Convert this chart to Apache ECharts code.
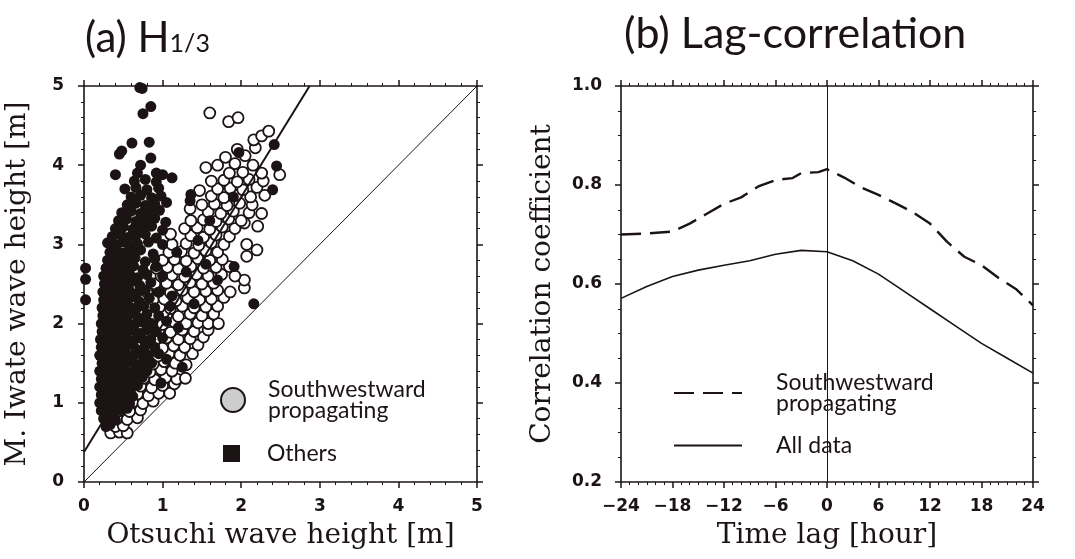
<!DOCTYPE html>
<html>
<head>
<meta charset="utf-8">
<script src="https://cdn.jsdelivr.net/npm/echarts@6/dist/echarts.min.js"></script>
<style>
html, body { margin: 0; padding: 0; background: #fff; }
#main { width: 1075px; height: 559px; }
</style>
</head>
<body>
<div id="main"></div>
<script>
// (a) scatter: Otsuchi vs M. Iwate H1/3 [m]
var otherPts = [
  [0.02,2.30],[0.02,2.56],[0.02,2.70],
  [0.28,0.70],[0.33,0.72],
  [0.25,0.80],[0.32,0.82],[0.40,0.78],
  [0.22,0.90],[0.29,0.92],[0.36,0.88],[0.45,0.91],[0.55,0.93],
  [0.20,1.00],[0.27,1.02],[0.34,0.98],[0.42,1.01],[0.50,1.03],[0.58,0.99],
  [0.22,1.10],[0.30,1.12],[0.38,1.09],[0.46,1.11],[0.55,1.13],[0.62,1.08],
  [0.20,1.20],[0.27,1.22],[0.35,1.19],[0.43,1.21],[0.52,1.23],[0.60,1.18],[0.68,1.22],
  [0.22,1.30],[0.30,1.32],[0.38,1.29],[0.46,1.31],[0.55,1.33],[0.64,1.28],[0.74,1.32],
  [0.20,1.40],[0.28,1.42],[0.36,1.39],[0.44,1.41],[0.52,1.43],[0.61,1.38],[0.70,1.42],[0.80,1.40],
  [0.23,1.50],[0.31,1.52],[0.39,1.49],[0.47,1.51],[0.56,1.53],[0.65,1.48],[0.75,1.52],[0.86,1.50],
  [0.20,1.60],[0.28,1.62],[0.36,1.59],[0.44,1.61],[0.53,1.63],[0.62,1.58],[0.72,1.62],[0.82,1.60],[0.95,1.62],
  [0.22,1.70],[0.30,1.72],[0.38,1.69],[0.47,1.71],[0.56,1.73],[0.66,1.68],[0.78,1.72],[0.90,1.70],
  [0.21,1.80],[0.29,1.82],[0.37,1.79],[0.45,1.81],[0.54,1.83],[0.63,1.78],[0.73,1.82],[0.85,1.80],[1.00,1.82],
  [0.23,1.90],[0.31,1.92],[0.39,1.89],[0.48,1.91],[0.57,1.93],[0.67,1.88],[0.80,1.92],[0.92,1.90],
  [0.22,2.00],[0.30,2.02],[0.38,1.99],[0.46,2.01],[0.55,2.03],[0.64,1.98],[0.74,2.02],[0.86,2.00],[1.05,2.03],
  [0.24,2.10],[0.32,2.12],[0.40,2.09],[0.49,2.11],[0.58,2.13],[0.68,2.08],[0.80,2.12],[0.95,2.10],
  [0.23,2.20],[0.31,2.22],[0.39,2.19],[0.47,2.21],[0.56,2.23],[0.66,2.18],[0.76,2.22],[0.90,2.20],[1.10,2.22],
  [0.25,2.30],[0.33,2.32],[0.41,2.29],[0.50,2.31],[0.59,2.33],[0.70,2.28],[0.83,2.32],
  [0.24,2.40],[0.32,2.42],[0.40,2.39],[0.48,2.41],[0.57,2.43],[0.67,2.38],[0.78,2.42],[0.95,2.40],
  [0.26,2.50],[0.34,2.52],[0.42,2.49],[0.51,2.51],[0.60,2.53],[0.71,2.48],[0.85,2.52],
  [0.25,2.60],[0.33,2.62],[0.41,2.59],[0.49,2.61],[0.58,2.63],[0.68,2.58],[0.80,2.62],
  [0.28,2.70],[0.36,2.72],[0.44,2.69],[0.53,2.71],[0.63,2.73],[0.75,2.68],[0.92,2.72],[1.91,2.72],
  [0.30,2.80],[0.38,2.82],[0.46,2.79],[0.55,2.81],[0.65,2.83],[0.78,2.78],[0.90,2.82],
  [0.33,2.90],[0.42,2.92],[0.51,2.89],[0.60,2.91],[0.72,2.93],[0.88,2.88],
  [0.30,3.02],[0.40,3.00],[0.49,3.03],[0.58,2.98],[0.68,3.01],[0.82,3.03],[1.00,3.00],
  [0.36,3.10],[0.47,3.12],[0.57,3.09],[0.66,3.11],[0.78,3.13],[0.92,3.08],
  [0.40,3.20],[0.50,3.22],[0.62,3.19],[0.74,3.21],[0.86,3.23],[1.00,3.18],
  [0.44,3.30],[0.54,3.32],[0.66,3.29],[0.78,3.31],[0.90,3.33],[1.04,3.28],
  [0.48,3.40],[0.60,3.42],[0.72,3.39],[0.84,3.41],[0.96,3.43],
  [0.55,3.50],[0.66,3.52],[0.78,3.49],[0.90,3.51],[1.05,3.53],
  [0.60,3.60],[0.72,3.62],[0.86,3.59],[0.98,3.61],[1.36,3.63],
  [0.52,3.70],[0.66,3.72],[0.80,3.69],[0.95,3.71],
  [0.64,3.80],[0.78,3.82],[0.92,3.79],[1.12,3.84],
  [0.40,3.88],[0.68,3.90],[0.92,3.90],[1.00,3.88],
  [0.72,4.00],[0.85,4.09],[0.45,4.14],[0.48,4.18],[1.97,4.16],[0.61,4.28],[0.83,4.29],
  [2.42,4.26],[2.45,3.99],[2.40,3.69],[0.75,4.65],[0.85,4.74],[0.74,4.97],[0.71,4.98],[2.16,2.25],
  [1.05,1.55],[1.20,1.95],[1.12,2.35],[1.30,2.65],[1.18,2.90],[1.45,3.05],[1.25,1.45],
  [1.40,2.25],[1.55,2.75],[0.98,1.25],[1.60,3.30],[1.90,3.60],[1.00,2.60],[1.35,3.55],[1.70,2.55]
];
var swPts = [
  [0.34,0.62],[0.45,0.63],[0.55,0.62],
  [0.40,0.70],[0.50,0.71],
  [0.42,0.80],[0.55,0.79],[0.68,0.81],
  [0.45,0.90],[0.58,0.89],[0.72,0.91],
  [0.50,1.00],[0.62,1.01],[0.75,0.99],[0.88,1.02],
  [0.55,1.10],[0.68,1.11],[0.82,1.09],[0.95,1.12],[1.09,1.12],
  [0.58,1.20],[0.72,1.21],[0.86,1.19],[1.00,1.22],[1.15,1.24],
  [0.62,1.30],[0.76,1.31],[0.90,1.29],[1.04,1.32],[1.18,1.30],[1.29,1.31],
  [0.55,1.40],[0.70,1.41],[0.84,1.39],[0.98,1.42],[1.12,1.40],
  [0.60,1.50],[0.74,1.51],[0.88,1.49],[1.02,1.52],[1.16,1.50],[1.30,1.48],
  [0.66,1.60],[0.80,1.61],[0.94,1.59],[1.08,1.62],[1.22,1.60],[1.38,1.62],
  [0.70,1.70],[0.85,1.71],[1.00,1.69],[1.14,1.72],[1.28,1.70],[1.45,1.73],
  [0.40,1.86],[0.62,1.80],[0.76,1.81],[0.90,1.79],[1.05,1.82],[1.20,1.80],[1.35,1.81],[1.52,1.83],
  [0.80,1.90],[0.95,1.91],[1.10,1.89],[1.25,1.92],[1.40,1.90],[1.58,1.92],
  [0.72,2.00],[0.86,2.01],[1.00,1.99],[1.15,2.02],[1.30,2.00],[1.45,2.01],[1.58,2.00],[1.71,2.00],
  [0.90,2.10],[1.05,2.11],[1.20,2.09],[1.35,2.12],[1.50,2.10],[1.65,2.12],
  [0.64,2.18],[0.82,2.20],[0.96,2.21],[1.10,2.19],[1.25,2.22],[1.40,2.20],[1.55,2.21],[1.70,2.22],
  [0.88,2.30],[1.02,2.31],[1.17,2.29],[1.32,2.32],[1.47,2.30],[1.62,2.31],[1.78,2.33],
  [0.80,2.40],[0.95,2.41],[1.10,2.39],[1.25,2.42],[1.40,2.40],[1.55,2.41],[1.70,2.42],[1.86,2.40],[2.04,2.45],
  [0.90,2.50],[1.05,2.51],[1.20,2.49],[1.35,2.52],[1.50,2.50],[1.65,2.51],[2.04,2.55],
  [0.98,2.60],[1.12,2.61],[1.28,2.59],[1.43,2.62],[1.58,2.60],[1.75,2.62],[1.92,2.60],
  [0.92,2.70],[1.06,2.71],[1.20,2.69],[1.36,2.72],[1.52,2.70],[1.68,2.71],[1.85,2.72],
  [1.00,2.80],[1.15,2.81],[1.30,2.79],[1.45,2.82],[1.60,2.80],[1.76,2.81],[2.07,2.85],
  [1.08,2.90],[1.24,2.91],[1.40,2.89],[1.55,2.92],[1.70,2.90],[2.20,2.93],
  [1.12,3.00],[1.30,3.01],[1.46,2.99],[1.62,3.02],[1.78,3.00],[2.07,3.00],
  [1.10,3.13],[1.36,3.11],[1.52,3.09],[1.68,3.12],[1.85,3.10],
  [1.28,3.20],[1.44,3.21],[1.60,3.19],[1.76,3.22],[1.92,3.20],[2.04,3.27],[2.21,3.23],
  [1.36,3.30],[1.52,3.31],[1.68,3.29],[1.84,3.32],[2.00,3.30],
  [1.35,3.45],[1.58,3.41],[1.74,3.39],[1.90,3.42],[2.10,3.40],[2.26,3.39],
  [1.50,3.50],[1.66,3.51],[1.82,3.49],[1.98,3.52],[2.14,3.50],
  [1.47,3.68],[1.62,3.61],[1.78,3.59],[1.94,3.62],[2.12,3.60],[2.30,3.62],
  [1.70,3.70],[1.86,3.71],[2.02,3.69],[2.20,3.72],
  [1.62,3.80],[1.78,3.81],[1.95,3.79],[2.10,3.82],[2.28,3.80],
  [1.55,3.97],[1.85,3.90],[2.02,3.91],[2.26,3.90],[2.49,3.88],
  [1.70,4.00],[1.92,4.02],[2.15,4.00],
  [1.80,4.10],[2.05,4.12],
  [1.95,4.20],[2.18,4.22],
  [2.16,4.32],[2.26,4.37],[2.35,4.43],
  [1.84,4.55],[1.96,4.60],[1.60,4.66]
];
var fitX = [0, 2.87];
var fitY = [0.38, 5];
var diagX = [0, 5];
var diagY = [0, 5];

// (b) lag correlation
var swLag = [-24, -21, -18, -16, -14, -12, -10, -8, -6, -5, -4, -3, -1, 0, 2, 4, 6, 8, 10, 12, 14, 16, 18, 20, 22, 24];
var swCorr = [0.700, 0.702, 0.706, 0.722, 0.742, 0.762, 0.775, 0.797, 0.810, 0.812, 0.814, 0.824, 0.826, 0.832, 0.815, 0.795, 0.780, 0.763, 0.745, 0.722, 0.685, 0.655, 0.638, 0.612, 0.590, 0.557];
var allLag = [-24, -21, -18, -15, -12, -9, -6, -3, 0, 3, 6, 9, 12, 15, 18, 21, 24];
var allCorr = [0.571, 0.595, 0.615, 0.628, 0.638, 0.647, 0.660, 0.668, 0.665, 0.647, 0.620, 0.585, 0.550, 0.515, 0.480, 0.450, 0.420];

var names = {
    sw: 'Southwestward\npropagating',
    others: 'Others',
    swLine: 'Southwestward\npropagating',
    all: 'All data'
};

var ink = '#1c1414';

function zip(a, b) {
    var out = [];
    for (var i = 0; i < a.length; i++) out.push([a[i], b[i]]);
    return out;
}

function axis(gridIndex, pos, min, max, interval, minorSplit, opts) {
    var ax = {
        type: 'value', gridIndex: gridIndex, position: pos,
        min: min, max: max, interval: interval,
        axisLine: { show: true, onZero: false, lineStyle: { color: ink, width: 1.6 } },
        axisTick: { show: true, length: 6, lineStyle: { color: ink, width: 1.5 } },
        minorTick: { show: true, splitNumber: minorSplit, length: 3, lineStyle: { color: ink, width: 1 } },
        splitLine: { show: false },
        axisLabel: { show: false }
    };
    if (opts) {
        ax.axisLabel = {
            show: true, margin: opts.margin, color: ink,
            fontFamily: 'DejaVu Sans', fontWeight: 'bold', fontSize: 17,
            formatter: opts.fmt
        };
        ax.name = opts.name;
        ax.nameLocation = 'middle';
        ax.nameGap = opts.gap;
        ax.nameTextStyle = { fontFamily: 'DejaVu Serif', fontSize: 28, color: ink };
    }
    return ax;
}

var intFmt = function (v) { return String(v); };
var lagFmt = function (v) { return v < 0 ? '\u2212' + (-v) : String(v); };
var corrFmt = function (v) { return v.toFixed(1); };

var myChart = echarts.init(document.getElementById('main'));

var option = {
    animation: false,
    backgroundColor: '#fff',
    color: [ink],
    title: [{
        left: 80, top: 4,
        text: '{m|(a) H}{s|1/3}',
        textStyle: {
            rich: {
                m: { fontFamily: 'Lato', fontSize: 42, fontWeight: 'normal', color: ink, lineHeight: 50, verticalAlign: 'bottom' },
                s: { fontFamily: 'Lato', fontSize: 25, fontWeight: 'normal', color: ink, lineHeight: 30, verticalAlign: 'bottom', padding: [0, 0, 3, 0] }
            }
        }
    }, {
        left: 619, top: 4,
        text: '(b) Lag-correlation',
        textStyle: { fontFamily: 'Lato', fontSize: 43, fontWeight: 'normal', color: ink, lineHeight: 50 }
    }],
    legend: [{
        left: 215, top: 373, orient: 'vertical', selectedMode: false,
        itemWidth: 24, itemHeight: 24,
        data: [{ name: 'sw', icon: 'circle', itemStyle: { color: '#cdcdcd', borderColor: ink, borderWidth: 2 } }],
        formatter: function (n) { return names[n]; },
        textStyle: { fontFamily: 'Lato', fontSize: 23, lineHeight: 21, color: ink, padding: [0, 0, 0, 18] }
    }, {
        left: 218, top: 437, orient: 'vertical', selectedMode: false,
        itemWidth: 17, itemHeight: 17,
        data: [{ name: 'others', icon: 'rect', itemStyle: { color: ink } }],
        formatter: function (n) { return names[n]; },
        textStyle: { fontFamily: 'Lato', fontSize: 23, lineHeight: 22, color: ink, padding: [0, 0, 0, 22] }
    }, {
        left: 673, top: 353, orient: 'vertical', selectedMode: false,
        backgroundColor: '#fff', padding: [18, 20, 11, 0], itemGap: 19,
        itemWidth: 68, itemHeight: 14,
        data: [
            { name: 'swLine', itemStyle: { opacity: 0 } },
            { name: 'all', itemStyle: { opacity: 0 } }
        ],
        formatter: function (n) { return names[n]; },
        textStyle: { fontFamily: 'Lato', fontSize: 23, lineHeight: 21, color: ink, padding: [0, 0, 0, 29] }
    }],
    grid: [
        { left: 84, top: 86, width: 393, height: 396 },
        { left: 621, top: 86, width: 412, height: 396 }
    ],
    xAxis: [
        axis(0, 'bottom', 0, 5, 1, 5, { name: 'Otsuchi wave height [m]', gap: 40, margin: 16, fmt: intFmt }),
        axis(0, 'top', 0, 5, 1, 5),
        axis(1, 'bottom', -24, 24, 6, 6, { name: 'Time lag [hour]', gap: 40, margin: 16, fmt: lagFmt }),
        axis(1, 'top', -24, 24, 6, 6)
    ],
    yAxis: [
        axis(0, 'left', 0, 5, 1, 5, { name: 'M. Iwate wave height [m]', gap: 52, margin: 20, fmt: intFmt }),
        axis(0, 'right', 0, 5, 1, 5),
        axis(1, 'left', 0.2, 1.0, 0.2, 4, { name: 'Correlation coefficient', gap: 64, margin: 19, fmt: corrFmt }),
        axis(1, 'right', 0.2, 1.0, 0.2, 4)
    ],
    series: [{
        name: 'diag', type: 'line', xAxisIndex: 0, yAxisIndex: 0,
        data: zip(diagX, diagY), symbol: 'none', z: 1,
        lineStyle: { color: ink, width: 1 }
    }, {
        name: 'sw', type: 'scatter', xAxisIndex: 0, yAxisIndex: 0,
        data: swPts, symbol: 'circle', symbolSize: 11, z: 2,
        itemStyle: { color: '#fff', borderColor: ink, borderWidth: 1.8, opacity: 1 }
    }, {
        name: 'others', type: 'scatter', xAxisIndex: 0, yAxisIndex: 0,
        data: otherPts, symbol: 'circle', symbolSize: 11, z: 3,
        itemStyle: { color: ink, opacity: 1 }
    }, {
        name: 'fit', type: 'line', xAxisIndex: 0, yAxisIndex: 0,
        data: zip(fitX, fitY), symbol: 'none', z: 4,
        lineStyle: { color: ink, width: 2 }
    }, {
        name: 'swLine', type: 'line', xAxisIndex: 2, yAxisIndex: 2,
        data: zip(swLag, swCorr), symbol: 'none', z: 3,
        itemStyle: { color: ink },
        lineStyle: { color: ink, width: 2.4, type: [20, 9] },
        markLine: {
            silent: true, symbol: 'none', label: { show: false },
            lineStyle: { color: ink, width: 1, type: 'solid' },
            data: [{ xAxis: 0 }]
        }
    }, {
        name: 'all', type: 'line', xAxisIndex: 2, yAxisIndex: 2,
        data: zip(allLag, allCorr), symbol: 'none', z: 3,
        itemStyle: { color: ink },
        lineStyle: { color: ink, width: 1.6 }
    }]
};

myChart.setOption(option);
</script>
</body>
</html>
